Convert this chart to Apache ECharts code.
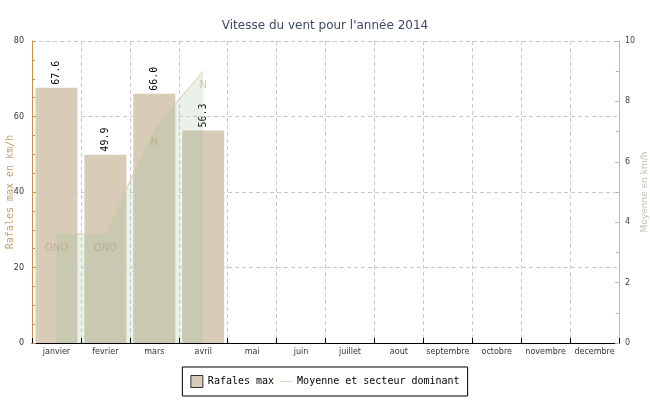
<!DOCTYPE html>
<html>
<head>
<meta charset="utf-8">
<script src="https://cdn.jsdelivr.net/npm/echarts@6/dist/echarts.min.js"></script>
<style>html,body{margin:0;padding:0;background:#fff}#c{width:650px;height:400px}</style>
</head>
<body>
<div id="c"></div>
<script>
var months = ['janvier','fevrier','mars','avril','mai','juin','juillet','aout','septembre','octobre','novembre','decembre'];
var rafales = [67.6, 49.9, 66.0, 56.3, null, null, null, null, null, null, null, null];
var moyenne = [3.6, 3.6, 7.1, 9.0, null, null, null, null, null, null, null, null];
var secteurs = ['ONO', 'ONO', 'N', 'N', '', '', '', '', '', '', '', ''];

var chart = echarts.init(document.getElementById('c'), null, {renderer: 'canvas'});
var mono = 'DejaVu Sans Mono';
chart.setOption({
  animation: false,
  backgroundColor: '#fff',
  title: {
    text: "Vitesse du vent pour l'année 2014",
    left: 'center', top: 15,
    textStyle: {fontFamily: 'DejaVu Sans', fontSize: 12, fontWeight: 'normal', color: '#3d4a66'}
  },
  legend: {
    left: 'center', top: 367,
    borderColor: '#000', borderWidth: 1,
    padding: [8, 8, 8, 8],
    itemWidth: 12, itemHeight: 12, itemGap: 6,
    textStyle: {fontFamily: mono, fontSize: 10, color: '#000'},
    data: [
      {name: 'Rafales max', icon: 'rect', itemStyle: {color: '#d8ccb9', borderColor: '#333', borderWidth: 1}},
      {name: 'Moyenne et secteur dominant',
       icon: 'path://M0,0 M0,12 M0,5.5 L12,5.5 L12,6.5 L0,6.5 Z',
       itemStyle: {color: '#e2d8c0', borderWidth: 0}}
    ]
  },
  grid: {left: 32, right: 31, top: 41, bottom: 57, containLabel: false, outerBoundsMode: 'none'},
  xAxis: {
    type: 'category', data: months, boundaryGap: true,
    axisLine: {lineStyle: {color: '#000', width: 1}},
    axisTick: {show: true, inside: true, length: 5, alignWithLabel: false, lineStyle: {color: '#000'}},
    axisLabel: {fontFamily: 'DejaVu Sans', fontSize: 8, color: '#333', margin: 5, interval: 0},
    splitLine: {show: true, lineStyle: {color: '#c8c8c8', type: [4, 3]}},
    z: 10
  },
  yAxis: [
    {
      type: 'value', min: 0, max: 80, interval: 20,
      name: 'Rafales max en km/h', nameLocation: 'middle', nameGap: 17, nameMoveOverlap: false,
      nameTextStyle: {fontFamily: mono, fontSize: 10, color: '#c8a06c'},
      axisLine: {show: true, lineStyle: {color: '#c8914a'}},
      axisTick: {show: true, inside: true, length: 4, lineStyle: {color: '#c8914a'}},
      minorTick: {show: true, splitNumber: 4, length: 3, lineStyle: {color: '#c8914a'}},
      axisLabel: {fontFamily: 'DejaVu Sans', fontSize: 8, color: '#333', margin: 8},
      splitLine: {show: true, lineStyle: {color: '#c8c8c8', type: [4, 3]}},
      z: 10
    },
    {
      type: 'value', min: 0, max: 10, interval: 2, position: 'right',
      name: 'Moyenne en km/h', nameLocation: 'middle', nameGap: 21, nameMoveOverlap: false,
      nameTextStyle: {fontFamily: 'DejaVu Sans', fontSize: 9, color: '#c8c0b0'},
      axisLine: {show: true, lineStyle: {color: '#c8b898'}},
      axisTick: {show: true, inside: true, length: 4, lineStyle: {color: '#c8b898'}},
      minorTick: {show: true, splitNumber: 2, length: 3, lineStyle: {color: '#c8b898'}},
      axisLabel: {fontFamily: 'DejaVu Sans', fontSize: 8, color: '#444', margin: 6},
      splitLine: {show: false},
      z: 10
    }
  ],
  series: [
    {
      name: 'Rafales max', type: 'bar', yAxisIndex: 0, data: rafales,
      barWidth: 42,
      itemStyle: {color: '#d8ccb9'},
      label: {
        show: true, position: 'top', rotate: 90, distance: 3,
        align: 'left', verticalAlign: 'middle',
        fontFamily: mono, fontSize: 10, color: '#000',
        formatter: function (p) { return p.value == null ? '' : p.value.toFixed(1); }
      },
      z: 2
    },
    {
      name: 'Moyenne et secteur dominant', type: 'line', yAxisIndex: 1, data: moyenne,
      symbol: 'circle', symbolSize: 0.01, showSymbol: true,
      lineStyle: {color: '#d9cca6', width: 1},
      itemStyle: {color: '#d9cca6'},
      areaStyle: {color: 'rgb(145,185,140)', opacity: 0.2},
      label: {
        show: true, position: 'bottom', distance: 9,
        fontFamily: 'DejaVu Sans', fontSize: 10, color: 'rgba(170,140,105,0.45)',
        formatter: function (p) { return secteurs[p.dataIndex]; }
      },
      z: 3
    }
  ]
});
</script>
</body>
</html>
